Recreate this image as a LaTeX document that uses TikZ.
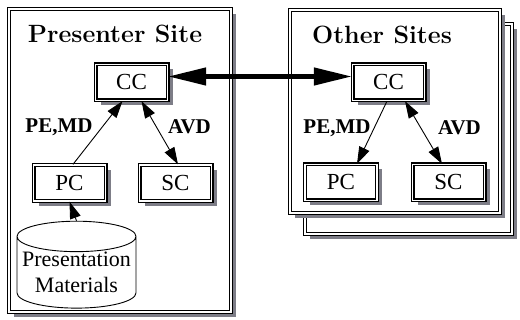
\documentclass[tikz,border=0pt]{standalone}
\usepackage{fontspec}
\usetikzlibrary{arrows.meta,shadows,shapes.geometric}
\newfontfamily\boxfont{Liberation Serif}
\definecolor{shadowgray}{RGB}{125,125,135}

\begin{document}
\begin{tikzpicture}[x=1pt,y=-1pt,
  dbl/.style={draw,line width=1.3pt,double=white,double distance=1.4pt,fill=white,
    drop shadow={shadow xshift=5pt,shadow yshift=-5pt,fill=shadowgray,opacity=1}},
  box/.style={dbl,minimum width=72pt,minimum height=36pt,inner sep=0pt,font=\boxfont\fontsize{23}{26}\selectfont},
  site/.style={dbl,inner sep=0pt},
  sitename/.style={font=\fontsize{25}{29}\selectfont\bfseries,anchor=base},
  lbl/.style={font=\boxfont\bfseries\fontsize{21}{24}\selectfont},
  db/.style={cylinder,shape border rotate=90,aspect=0.28,draw,fill=white,line width=0.9pt,
    minimum width=119pt,minimum height=75pt,inner sep=0pt,align=center,font=\boxfont\fontsize{22}{26}\selectfont},
  flow/.style={line width=0.9pt,-{Triangle[length=17pt,width=11pt]}},
  flowboth/.style={line width=0.9pt,{Triangle[length=17pt,width=11pt]}-{Triangle[length=17pt,width=11pt]}},
  link/.style={line width=4.5pt,{Triangle[length=38pt,width=17pt]}-{Triangle[length=38pt,width=17pt]}}]
\useasboundingbox (0,0) rectangle (520,320);
\node[site,minimum width=222pt,minimum height=303pt] (pres) at (120,160.5) {};
\node[site,minimum width=207pt,minimum height=210pt] (back) at (408.5,129) {};
\node[site,minimum width=210pt,minimum height=203pt] (other) at (395,111.5) {};
\node[sitename] (prestitle) at (115,43) {Presenter Site};
\node[sitename] (othertitle) at (382,44) {Other Sites};
\node[box] (ccl) at (131.5,82.5) {CC};
\node[box] (pcl) at (69.5,183) {PC};
\node[box] (scl) at (175.5,183) {SC};
\node[db] (mat) at (76.5,272.5) {Presentation\\Materials};
\node[box] (ccr) at (388.5,82.5) {CC};
\node[box] (pcr) at (341,182.5) {PC};
\node[box] (scr) at (448.5,182.5) {SC};
\node[lbl] (pel) at (59,127) {PE,MD};
\node[lbl] (avdl) at (189.5,127) {AVD};
\node[lbl] (per) at (337,128) {PE,MD};
\node[lbl] (avdr) at (459.5,128) {AVD};
\draw[flow] (mat.north) -- (pcl.south);
\draw[flow] ([xshift=3.5pt]pcl.north) -- ([xshift=-9pt]ccl.south);
\draw[flowboth] ([xshift=10pt]ccl.south) -- ([xshift=2.5pt]scl.north);
\draw[flow] ([xshift=-1.5pt]ccr.south) -- ([xshift=16pt]pcr.north);
\draw[flowboth] ([xshift=16.5pt]ccr.south) -- ([xshift=-6.5pt]scr.north);
\draw[link] ([yshift=6pt]ccl.east) -- ([yshift=6pt]ccr.west);
\end{tikzpicture}
\end{document}
